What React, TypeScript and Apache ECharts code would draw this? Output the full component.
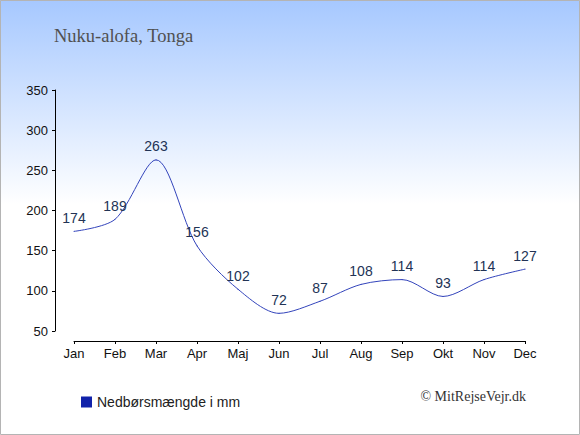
import React, { useEffect, useRef } from "react";
import * as echarts from "echarts";

const months = ["Jan", "Feb", "Mar", "Apr", "Maj", "Jun", "Jul", "Aug", "Sep", "Okt", "Nov", "Dec"];
const rainfall = [174, 189, 263, 156, 102, 72, 87, 108, 114, 93, 114, 127];
const titleText = "Nuku-alofa, Tonga";
const legendText = "Nedbørsmængde i mm";
const creditText = "© MitRejseVejr.dk";

export default function App() {
  const ref = useRef<HTMLDivElement>(null);
  useEffect(() => {
    document.body.style.margin = "0";
    const chart = echarts.init(ref.current!, null, { renderer: "svg" });
    chart.setOption({
      animation: false,
      backgroundColor: new echarts.graphic.LinearGradient(0, 0, 0, 1, [
        { offset: 0, color: "#a6c8ff" },
        { offset: 0.47, color: "#ffffff" },
        { offset: 1, color: "#ffffff" },
      ]),
      title: {
        text: titleText,
        left: 49,
        top: 21,
        textStyle: {
          fontFamily: "'Liberation Serif', serif",
          fontSize: 18.5,
          fontWeight: "normal",
          color: "#505050",
        },
      },
      legend: {
        show: true,
        left: 76,
        top: 390,
        itemWidth: 11,
        itemHeight: 11,
        itemGap: 5,
        icon: "rect",
        data: [{ name: legendText, itemStyle: { color: "#1122aa", opacity: 1 } }],
        textStyle: { fontFamily: "'Liberation Sans', Arial, sans-serif", fontSize: 14, color: "#222222" },
      },
      graphic: [
        {
          type: "text",
          right: 54,
          top: 389,
          style: {
            text: creditText,
            font: "14px 'Liberation Serif', serif",
            fill: "#333333",
          },
        },
        {
          type: "rect",
          shape: { x: 0.5, y: 0.5, width: 579, height: 434 },
          style: { fill: "none", stroke: "#b4b4b4", lineWidth: 1 },
          silent: true,
        },
      ],
      grid: { left: 74, right: 55, top: 90, bottom: 104 },
      xAxis: {
        type: "category",
        data: months,
        boundaryGap: false,
        offset: 10,
        axisLine: { lineStyle: { color: "#000000", width: 1 } },
        axisTick: { show: true, length: 3, alignWithLabel: true, lineStyle: { color: "#000000" } },
        axisLabel: {
          margin: 6,
          fontFamily: "'Liberation Sans', Arial, sans-serif",
          fontSize: 13,
          color: "#111111",
        },
        splitLine: { show: false },
      },
      yAxis: {
        type: "value",
        min: 50,
        max: 350,
        interval: 50,
        offset: 19,
        axisLine: { show: true, lineStyle: { color: "#000000", width: 1 } },
        axisTick: { show: true, length: 3, lineStyle: { color: "#000000" } },
        axisLabel: {
          margin: 7,
          fontFamily: "'Liberation Sans', Arial, sans-serif",
          fontSize: 13,
          color: "#111111",
        },
        splitLine: { show: false },
      },
      series: [
        {
          name: legendText,
          type: "line",
          data: rainfall,
          smooth: 0.3,
          symbol: "circle",
          symbolSize: 1,
          showSymbol: true,
          lineStyle: { color: "#3344bb", width: 1 },
          itemStyle: { color: "#3344bb" },
          label: {
            show: true,
            position: "top",
            distance: 6,
            fontFamily: "'Liberation Sans', Arial, sans-serif",
            fontSize: 14,
            color: "#223355",
          },
        },
      ],
    });
    return () => chart.dispose();
  }, []);
  return <div ref={ref} style={{ width: 580, height: 435 }} />;
}
